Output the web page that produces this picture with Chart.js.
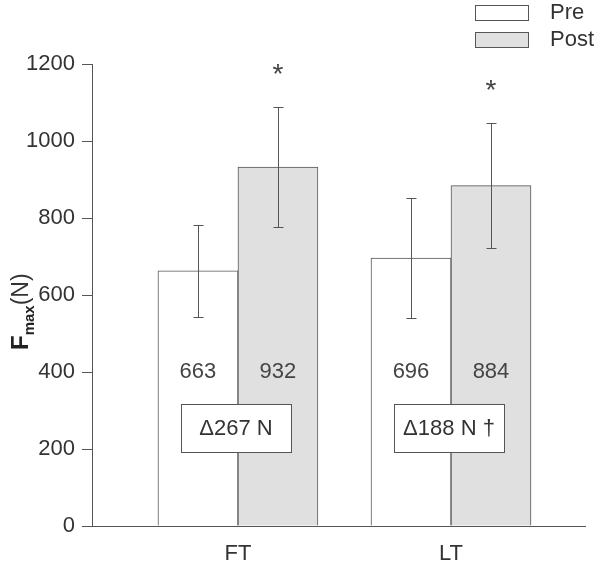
<!DOCTYPE html>
<html><head><meta charset="utf-8">
<script src="https://cdn.jsdelivr.net/npm/chart.js@4/dist/chart.umd.min.js"></script>
<style>html,body{margin:0;padding:0;background:#fff;}#wrap{width:600px;height:563px;position:relative;}</style>
</head><body><div id="wrap"><canvas id="c"></canvas></div>
<script>
const categories = ['FT', 'LT'];
const seriesNames = ['Pre', 'Post'];
const preMean = [663, 696];
const postMean = [932, 884];
const preSD = [120, 156];
const postSD = [156, 162];
const deltaLabels = ['\u0394267 N', '\u0394188 N \u2020'];
const postSignificance = ['*', '*'];
const yTickValues = [0, 200, 400, 600, 800, 1000, 1200];

const FONT = '"Liberation Sans", Arial, sans-serif';
const AXIS_COLOR = '#555';
const TEXT_COLOR = '#333';

const sdBySeries = [preSD, postSD];
const meanBySeries = [preMean, postMean];

const overlayPlugin = {
  id: 'overlay',
  afterDatasetsDraw(chart) {
    const ctx = chart.ctx;
    const xS = chart.scales.x, yS = chart.scales.y;
    ctx.save();
    ctx.strokeStyle = AXIS_COLOR;
    ctx.lineWidth = 1;
    chart.data.datasets.forEach((ds, di) => {
      const meta = chart.getDatasetMeta(di);
      meta.data.forEach((el, i) => {
        const m = meanBySeries[di][i], s = sdBySeries[di][i];
        const x = Math.round(el.x) + 0.5;
        const yt = Math.round(yS.getPixelForValue(m + s)) + 0.5;
        const yb = Math.round(yS.getPixelForValue(m - s)) + 0.5;
        ctx.strokeStyle = AXIS_COLOR;
        ctx.beginPath();
        ctx.moveTo(x, yt); ctx.lineTo(x, yb);
        ctx.moveTo(x - 5, yt); ctx.lineTo(x + 5, yt);
        ctx.moveTo(x - 5, yb); ctx.lineTo(x + 5, yb);
        ctx.stroke();
        ctx.fillStyle = '#444';
        ctx.font = '22px ' + FONT;
        ctx.textAlign = 'center';
        ctx.textBaseline = 'middle';
        ctx.fillText(String(m), el.x, yS.getPixelForValue(400));
      });
    });
    const postMeta = chart.getDatasetMeta(1);
    postMeta.data.forEach((el, i) => {
      const top = postMean[i] + postSD[i];
      ctx.fillStyle = '#444';
      ctx.font = '28px ' + FONT;
      ctx.textAlign = 'center';
      ctx.textBaseline = 'alphabetic';
      ctx.fillText(postSignificance[i], el.x, yS.getPixelForValue(top + 96) + 13);
    });
    categories.forEach((c, i) => {
      const cx = xS.getPixelForValue(i) - 2;
      const cy = yS.getPixelForValue(255);
      const w = 110, h = 48;
      const x0 = Math.round(cx - w / 2) + 0.5, y0 = Math.round(cy - h / 2) + 0.5;
      ctx.fillStyle = '#fff';
      ctx.fillRect(x0, y0, w, h);
      ctx.strokeStyle = AXIS_COLOR;
      ctx.strokeRect(x0, y0, w, h);
      ctx.fillStyle = TEXT_COLOR;
      ctx.font = '22px ' + FONT;
      ctx.textAlign = 'center';
      ctx.textBaseline = 'middle';
      ctx.fillText(deltaLabels[i], cx, cy + 1);
    });
    ctx.restore();
  },
  afterDraw(chart) {
    const ctx = chart.ctx;
    ctx.save();
    chart.data.datasets.forEach((ds, i) => {
      const bx = 475.5, by = 5.5 + i * 27;
      ctx.fillStyle = ds.backgroundColor;
      ctx.fillRect(bx, by, 53, 15);
      ctx.strokeStyle = AXIS_COLOR;
      ctx.lineWidth = 1;
      ctx.strokeRect(bx, by, 53, 15);
      ctx.fillStyle = TEXT_COLOR;
      ctx.font = '22px ' + FONT;
      ctx.textAlign = 'left';
      ctx.textBaseline = 'middle';
      ctx.fillText(ds.label, 550, by + 7);
    });
    ctx.translate(28, 350);
    ctx.rotate(-Math.PI / 2);
    ctx.fillStyle = '#222';
    ctx.textAlign = 'left';
    ctx.textBaseline = 'alphabetic';
    ctx.font = 'bold 24px ' + FONT;
    ctx.fillText('F', 0, 0);
    let x = ctx.measureText('F').width;
    ctx.font = 'bold 15px ' + FONT;
    ctx.fillText('max', x, 6);
    x += ctx.measureText('max').width;
    ctx.font = '23px ' + FONT;
    ctx.fillStyle = TEXT_COLOR;
    ctx.fillText('(N)', x, 0);
    ctx.restore();
  }
};

const chart = new Chart(document.getElementById('c'), {
  type: 'bar',
  data: {
    datasets: [
      { label: seriesNames[0], data: preMean.map((v, i) => ({ x: i, y: v })),
        backgroundColor: '#ffffff', borderColor: AXIS_COLOR, borderWidth: 1 },
      { label: seriesNames[1], data: postMean.map((v, i) => ({ x: i, y: v })),
        backgroundColor: '#e0e0e0', borderColor: AXIS_COLOR, borderWidth: 1 }
    ]
  },
  options: {
    responsive: true,
    maintainAspectRatio: false,
    animation: false,
    barThickness: 80,
    layout: { padding: { top: 64, right: 15, left: 0, bottom: 0 } },
    plugins: { legend: { display: false }, tooltip: { enabled: false } },
    scales: {
      x: {
        type: 'linear',
        offset: false,
        min: -0.685, max: 1.629,
        bounds: 'data',
        afterBuildTicks: (s) => { s.ticks = categories.map((c, i) => ({ value: i })); },
        afterFit: (s) => { s.height = 37; },
        ticks: {
          callback: (v) => categories[v],
          font: { family: FONT, size: 22 }, color: TEXT_COLOR, padding: 7,
          autoSkip: false, maxRotation: 0
        },
        grid: { display: false, offset: false },
        border: { display: true, color: AXIS_COLOR, width: 1 }
      },
      y: {
        min: 0, max: 1200,
        afterBuildTicks: (s) => { s.ticks = yTickValues.map(v => ({ value: v })); },
        afterFit: (s) => { s.width = 92; },
        ticks: { callback: (v) => String(v), font: { family: FONT, size: 22 }, color: TEXT_COLOR, padding: 7 },
        grid: { display: true, drawOnChartArea: false, drawTicks: true, tickLength: 10, color: AXIS_COLOR },
        border: { display: true, color: AXIS_COLOR, width: 1 }
      }
    }
  },
  plugins: [overlayPlugin]
});
</script></body></html>
